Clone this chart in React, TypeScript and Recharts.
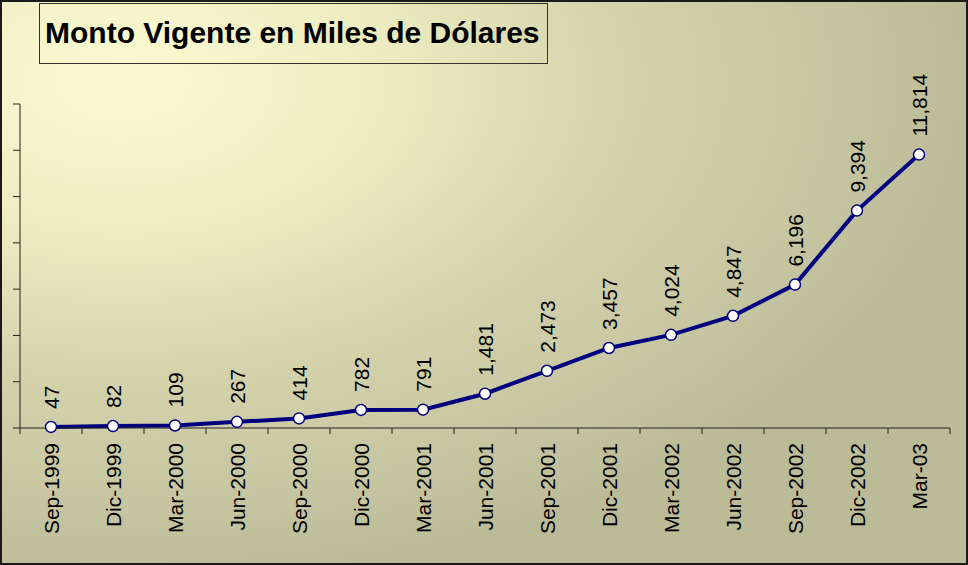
import { LineChart, Line, XAxis, YAxis } from 'recharts'

const months = ['Sep-1999', 'Dic-1999', 'Mar-2000', 'Jun-2000', 'Sep-2000', 'Dic-2000', 'Mar-2001', 'Jun-2001', 'Sep-2001', 'Dic-2001', 'Mar-2002', 'Jun-2002', 'Sep-2002', 'Dic-2002', 'Mar-03']
const monto = [47, 82, 109, 267, 414, 782, 791, 1481, 2473, 3457, 4024, 4847, 6196, 9394, 11814]
const yTicks = [0, 2000, 4000, 6000, 8000, 10000, 12000, 14000]

const data = months.map((m, i) => ({ month: m, monto: monto[i] }))

const HALF = 31
const FONT = 'Arial, "Liberation Sans", sans-serif'

const MonthTick = (props: any) => {
    const { x, y, payload, index } = props
    const last = index === months.length - 1
    return (<g>
        <line x1={x - HALF} y1={y} x2={x - HALF} y2={y + 6} stroke='#222' />
        {last && <line x1={x + HALF} y1={y} x2={x + HALF} y2={y + 6} stroke='#222' />}
        <text transform={`translate(${x},${y + 15}) rotate(-90)`} textAnchor='end' dominantBaseline='central'
            fontSize={21} fontFamily={FONT} fill='#000'>{payload.value}</text>
    </g>)
}

const ValueLabel = (props: any) => {
    const { x, y, value } = props
    return (<text transform={`translate(${x},${y - 18}) rotate(-90)`} textAnchor='start' dominantBaseline='central'
        fontSize={21} fontFamily={FONT} fill='#000'>{Number(value).toLocaleString('en-US')}</text>)
}

export default function App() {
    return (<div style={{
        position: 'absolute', left: 0, top: 0, width: 968, height: 565, boxSizing: 'border-box',
        border: '2px solid #1a1a1a',
        background: 'radial-gradient(ellipse 850px 500px at 120px 80px, #fbfbd3 0%, #eeecc0 30%, #d4d2ab 60%, #c6c5a1 85%, #bcbb98 100%)',
    }}>
        <div style={{
            position: 'absolute', left: 37, top: 1, width: 509, height: 61, boxSizing: 'border-box',
            border: '1px solid #333', fontFamily: FONT, fontWeight: 'bold', fontSize: 30,
            lineHeight: '58px', paddingLeft: 5, color: '#000', whiteSpace: 'nowrap',
        }}>Monto Vigente en Miles de Dólares</div>
        <div style={{ position: 'absolute', left: -2, top: -2 }}>
            <LineChart width={968} height={565} data={data} margin={{ top: 104, right: 18, bottom: 0, left: 0 }}>
                <XAxis dataKey='month' height={137} tickLine={false} tickSize={0} tickMargin={0} interval={0}
                    padding={{ left: HALF, right: HALF }} stroke='#222' tick={<MonthTick />} />
                <YAxis width={20} domain={[0, 14000]} ticks={yTicks} tickSize={7} stroke='#222'
                    tickFormatter={() => ''} />
                <Line dataKey='monto' stroke='#00007f' strokeWidth={4} isAnimationActive={false}
                    dot={{ r: 5.5, fill: '#fff', stroke: '#00007f', strokeWidth: 1.5 }}
                    label={<ValueLabel />} />
            </LineChart>
        </div>
    </div>)
}
